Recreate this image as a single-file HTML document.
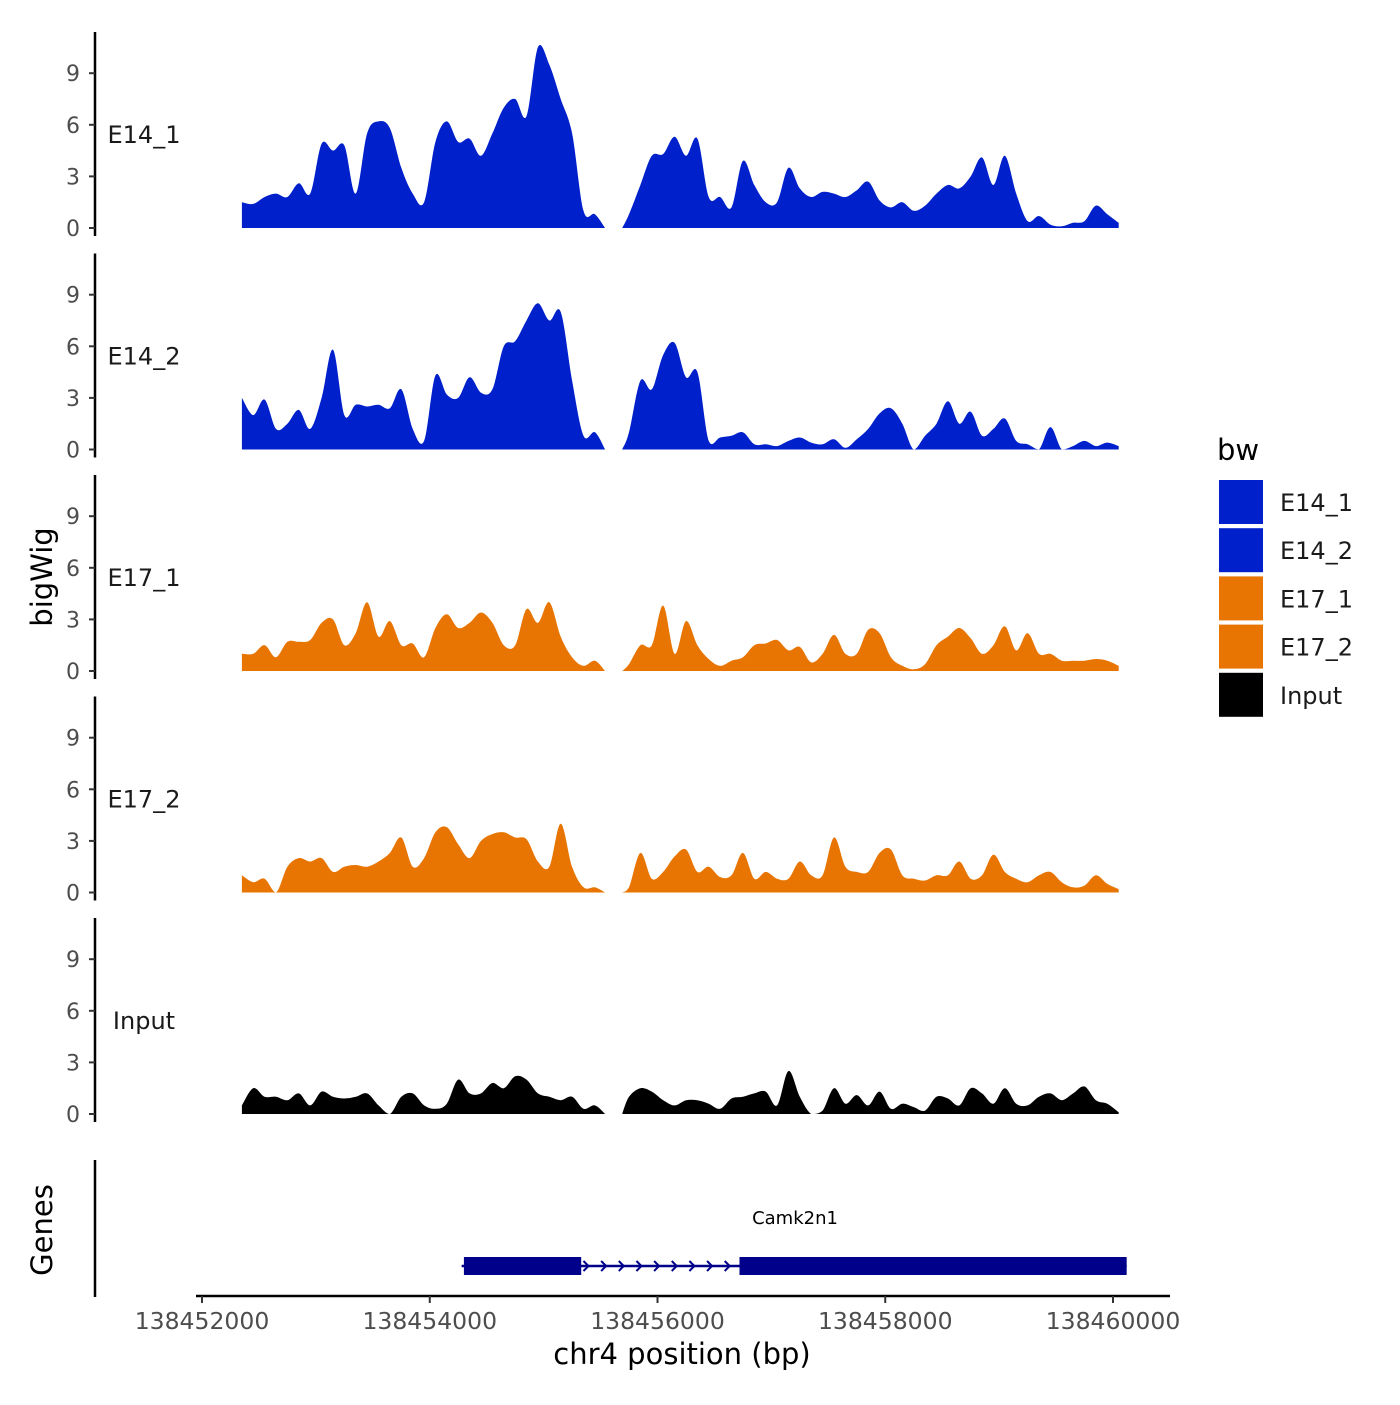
<!DOCTYPE html>
<html><head><meta charset="utf-8">
<style>
html,body{margin:0;padding:0;background:#fff;}
svg text{font-family:"DejaVu Sans","Liberation Sans",sans-serif;}
</style></head>
<body>
<svg id="chart" width="1400" height="1400" viewBox="0 0 1400 1400" xmlns="http://www.w3.org/2000/svg">
<g id="panels"></g>
<g id="genes">
  <line x1="95" y1="1160" x2="95" y2="1297" stroke="#000" stroke-width="2.5"/>
  <text x="52" y="1230" font-size="29" text-anchor="middle" transform="rotate(-90 52 1230)">Genes</text>
  <g id="gene"></g>
  <text x="795" y="1224" font-size="18" text-anchor="middle">Camk2n1</text>
</g>
<g id="xaxis">
  <line x1="196" y1="1296" x2="1170" y2="1296" stroke="#000" stroke-width="2.5"/>
</g>
<text x="682" y="1364" font-size="29" text-anchor="middle">chr4 position (bp)</text>
<text x="52" y="577" font-size="29" text-anchor="middle" transform="rotate(-90 52 577)">bigWig</text>
<g id="legend">
  <text x="1217" y="460" font-size="29">bw</text>
</g>
</svg>
<script>
const tracks = ["E14_1","E14_2","E17_1","E17_2","Input"];
const trackColors = ["#0020cc","#0020cc","#e87502","#e87502","#000000"];
const startBp = 138452350;
const stepBp = 100;
const yTicks = [0,3,6,9];
const xTicks = [138452000,138454000,138456000,138458000,138460000];
const N = null;
const e14_1 = [1.5,1.4,1.8,2.0,1.8,2.6,2.0,4.9,4.5,4.8,2.0,5.5,6.2,5.8,3.5,2.0,1.5,5.0,6.2,5.0,5.2,4.2,5.5,7.0,7.5,6.5,10.5,9.5,7.5,5.5,1.0,0.8,N,N,0.8,2.5,4.2,4.3,5.3,4.2,5.2,1.8,1.8,1.2,3.9,2.5,1.5,1.5,3.5,2.3,1.8,2.1,2.0,1.8,2.2,2.7,1.6,1.2,1.5,1.0,1.3,2.0,2.5,2.3,3.0,4.1,2.5,4.2,2.0,0.4,0.7,0.2,0.1,0.3,0.4,1.3,0.8,0.3];
const e14_2 = [3.0,2.0,2.9,1.2,1.5,2.3,1.2,3.0,5.8,2.0,2.6,2.5,2.6,2.4,3.5,1.2,0.5,4.3,3.2,3.0,4.2,3.3,3.5,6.0,6.3,7.5,8.5,7.5,8.0,4.0,0.8,1.0,N,N,1.0,4.0,3.5,5.5,6.2,4.2,4.5,0.5,0.7,0.8,1.0,0.3,0.3,0.2,0.5,0.7,0.4,0.3,0.6,0.1,0.6,1.2,2.1,2.4,1.5,0,0.8,1.5,2.8,1.5,2.2,0.8,1.2,1.8,0.5,0.3,0,1.3,0,0.2,0.5,0.2,0.4,0.2];
const e17_1 = [1.0,1.0,1.5,0.8,1.7,1.7,1.8,2.8,3.0,1.5,2.2,4.0,2.0,2.9,1.5,1.6,0.8,2.5,3.3,2.5,2.8,3.4,2.8,1.5,1.5,3.6,2.8,4.0,2.0,0.8,0.3,0.6,N,N,0.4,1.5,1.5,3.8,1.0,2.9,1.5,0.7,0.3,0.6,0.8,1.5,1.6,1.8,1.2,1.4,0.5,1.0,2.1,1.0,1.0,2.4,2.2,0.8,0.3,0.1,0.4,1.5,2.0,2.5,1.9,1.0,1.5,2.6,1.2,2.2,1.0,1.0,0.6,0.6,0.6,0.7,0.6,0.3];
const e17_2 = [1.0,0.6,0.8,0,1.5,2.0,1.8,2.0,1.2,1.5,1.6,1.5,1.8,2.3,3.2,1.5,2.0,3.5,3.8,2.8,2.0,3.0,3.4,3.5,3.2,3.1,1.8,1.5,4.0,1.5,0.3,0.3,N,N,0.3,2.3,0.8,1.2,2.1,2.5,1.2,1.5,0.9,1.0,2.3,0.8,1.2,0.8,0.8,1.8,1.0,1.0,3.2,1.5,1.2,1.2,2.3,2.5,1.0,0.8,0.7,1.0,1.0,1.8,0.8,1.0,2.2,1.2,0.8,0.6,1.0,1.2,0.6,0.3,0.4,1.0,0.5,0.2];
const input = [0.5,1.5,1.0,1.0,0.8,1.2,0.5,1.3,1.0,0.9,1.0,1.2,0.5,0,1.0,1.2,0.5,0.3,0.6,2.0,1.2,1.2,1.8,1.5,2.2,2.0,1.2,1.0,0.8,1.0,0.3,0.5,N,N,1.0,1.5,1.3,0.8,0.5,0.8,0.8,0.6,0.3,0.9,1.0,1.2,1.3,0.5,2.5,1.0,0,0.2,1.5,0.6,1.1,0.5,1.3,0.3,0.6,0.4,0.2,1.0,0.9,0.5,1.5,1.2,0.6,1.5,0.6,0.5,1.0,1.2,0.8,1.2,1.6,0.8,0.6,0.1];
const trackValues = [e14_1,e14_2,e17_1,e17_2,input];
const geneExons = [[138454300,138455330],[138456720,138460120]];
const geneSpan = [138454280,138460120];

const NS="http://www.w3.org/2000/svg";
function mk(tag,attrs,parent){const e=document.createElementNS(NS,tag);for(const k in attrs)e.setAttribute(k,attrs[k]);parent.appendChild(e);return e;}
const xScale = bp => 202 + (bp-138452000)*(911/8000);
const panelZero = k => 228 + 221.5*k;
const yScale = (v,k) => panelZero(k) - v*17.2;

function smoothPath(pts,base){
  let d="M"+pts[0][0].toFixed(1)+","+pts[0][1].toFixed(1);
  for(let i=0;i<pts.length-1;i++){
    const p0=pts[Math.max(0,i-1)],p1=pts[i],p2=pts[i+1],p3=pts[Math.min(pts.length-1,i+2)];
    const c1x=p1[0]+(p2[0]-p0[0])/6,c1y=p1[1]+(p2[1]-p0[1])/6;
    const c2x=p2[0]-(p3[0]-p1[0])/6,c2y=p2[1]-(p3[1]-p1[1])/6;
    d+=` C${c1x.toFixed(1)},${Math.min(c1y,base).toFixed(1)} ${c2x.toFixed(1)},${Math.min(c2y,base).toFixed(1)} ${p2[0].toFixed(1)},${p2[1].toFixed(1)}`;
  }
  return d;
}

const panels=document.getElementById('panels');
tracks.forEach((name,k)=>{
  const g=mk('g',{},panels);
  
  
  const z=panelZero(k);
  const ax=mk('line',{x1:95,y1:z-196,x2:95,y2:z+8,stroke:'#000','stroke-width':2.5},g);
  
  
  yTicks.forEach(t=>{
    const y=yScale(t,k);
    const tl=mk('line',{x1:89,y1:y,x2:95,y2:y,stroke:'#333','stroke-width':2},g);
    
    
    const tx=mk('text',{x:80,y:y+8,'font-size':22,fill:'#4d4d4d','text-anchor':'end'},g);
    tx.textContent=t;
    
    
  });
  const lb=mk('text',{x:144,y:z-85,'font-size':24,'text-anchor':'middle',fill:'#1a1a1a'},g);
  lb.textContent=name;
  
  
  const vals=trackValues[k];
  let seg=[];
  const segs=[];
  vals.forEach((v,i)=>{
    if(v===null){
      if(seg.length){seg.push([xScale(startBp+(i-0.1)*stepBp),z]);segs.push(seg);}
      seg=[];
    } else {
      if(!seg.length && i>0 && vals[i-1]===null) seg.push([xScale(startBp+(i-0.6)*stepBp),z]);
      seg.push([xScale(startBp+i*stepBp),yScale(v,k)]);
    }
  });
  if(seg.length)segs.push(seg);
  segs.forEach(s=>{
    const first=s[0][0],last=s[s.length-1][0];
    let d=smoothPath(s,z)+` L${last.toFixed(1)},${z} L${first.toFixed(1)},${z} Z`;
    const ar=mk('path',{d:d,fill:trackColors[k]},g);
    
    
  });
});

const xa=document.getElementById('xaxis');
xTicks.forEach(t=>{
  const x=xScale(t);
  const l=mk('line',{x1:x,y1:1296,x2:x,y2:1303,stroke:'#333','stroke-width':2},xa);
  
  
  const tx=mk('text',{x:x,y:1329,'font-size':23.5,fill:'#4d4d4d','text-anchor':'middle'},xa);
  tx.textContent=t;
  
  
});

const gg=document.getElementById('gene');
const gy=1266;
const gl=mk('line',{x1:xScale(geneSpan[0]),y1:gy,x2:xScale(geneSpan[1]),y2:gy,stroke:'#00008b','stroke-width':2.5},gg);


geneExons.forEach(e=>{
  const r=mk('rect',{x:xScale(e[0]),y:gy-9,width:xScale(e[1])-xScale(e[0]),height:18,fill:'#00008b'},gg);
  
  
});
for(let bp=138455350;bp<138456700;bp+=155){
  const x=xScale(bp)+4;
  const a=mk('path',{d:`M${x-4},${gy-5} L${x+1},${gy} L${x-4},${gy+5}`,fill:'none',stroke:'#00008b','stroke-width':2},gg);
  
  
}

const lg=document.getElementById('legend');
tracks.forEach((name,i)=>{
  const y=480+i*48.2;
  const r=mk('rect',{x:1219,y:y,width:44,height:44,fill:trackColors[i]},lg);
  
  
  const t=mk('text',{x:1280,y:y+31,'font-size':24,fill:'#1a1a1a'},lg);
  t.textContent=name;
  
  
});
</script>
</body></html>
